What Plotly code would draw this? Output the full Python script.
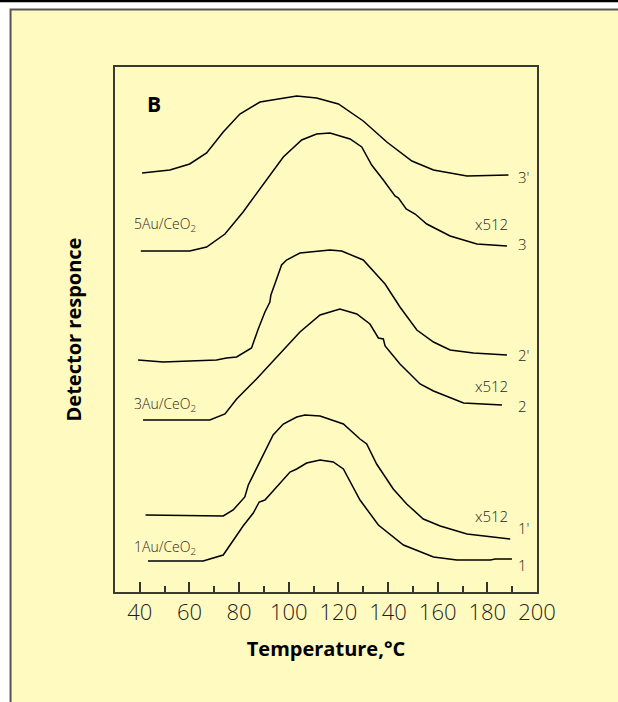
import plotly.graph_objects as go

# Temperature (°C) and detector response (arbitrary units, curves offset vertically)
t_1 = [43.3, 65.5, 73.6, 77.6, 81.6, 85.7, 88.1, 90.4, 96.4, 100.5, 103.2, 107.2, 112.6, 117.9,
       122.0, 128.0, 128.7, 136.1, 146.2, 158.3, 167.7, 181.2, 183.2, 189.9]
r_1 = [3.1, 3.1, 3.7, 5.2, 6.6, 7.9, 9.0, 9.2, 10.8, 12.0, 12.3, 12.9, 13.2, 13.0,
       12.3, 9.6, 9.2, 6.7, 4.7, 3.5, 3.2, 3.2, 3.3, 3.3]

t_1p = [42.3, 70.9, 73.6, 77.6, 82.3, 83.7, 88.4, 93.7, 97.8, 103.2, 106.5, 112.6, 122.0, 128.7,
        131.4, 135.4, 142.1, 147.5, 154.2, 161.0, 171.8, 189.2]
r_1p = [7.7, 7.6, 7.6, 8.2, 9.5, 10.7, 13.0, 15.7, 16.8, 17.5, 17.7, 17.6, 16.8, 15.3,
        14.8, 12.8, 10.3, 8.8, 7.3, 6.6, 5.8, 5.3]

t_2 = [41.3, 68.2, 74.3, 79.0, 87.0, 96.4, 104.5, 112.6, 120.6, 127.4, 132.7, 136.1, 138.1, 138.8,
       144.8, 152.9, 158.3, 170.4, 185.9]
r_2 = [17.2, 17.2, 17.8, 19.3, 21.3, 23.8, 26.0, 27.7, 28.3, 27.8, 26.8, 25.4, 25.3, 24.6,
       22.8, 20.8, 20.1, 18.9, 18.7]

t_2p = [39.3, 49.4, 70.9, 74.9, 79.0, 85.0, 87.7, 90.4, 92.4, 92.8, 94.4, 97.1, 99.1, 104.5,
        116.6, 121.3, 130.0, 138.8, 144.8, 151.6, 158.3, 165.0, 174.4, 187.9]
r_2p = [23.2, 23.0, 23.2, 23.4, 23.5, 24.4, 26.3, 28.0, 29.0, 29.7, 30.8, 32.7, 33.2, 33.9,
        34.2, 34.1, 33.2, 30.8, 28.5, 26.2, 25.0, 24.2, 23.9, 23.7]

t_3 = [40.4, 60.1, 66.9, 74.3, 81.6, 89.7, 97.8, 105.2, 111.2, 116.6, 124.7, 129.4, 133.4, 138.1,
       142.8, 144.2, 147.3, 150.9, 155.6, 165.0, 175.8, 187.9]
r_3 = [34.1, 34.1, 34.5, 35.8, 38.0, 40.8, 43.5, 45.2, 45.8, 45.9, 45.3, 44.5, 42.7, 41.2,
       39.6, 39.4, 38.3, 37.8, 36.8, 35.6, 34.8, 34.6]

t_3p = [40.9, 52.1, 60.1, 66.9, 73.6, 80.3, 88.4, 103.2, 111.2, 120.0, 130.0, 139.5, 149.6, 158.3,
        171.8, 188.5]
r_3p = [41.9, 42.2, 42.8, 43.9, 46.0, 47.8, 49.0, 49.6, 49.4, 48.8, 47.1, 45.0, 43.1, 42.2,
        41.6, 41.7]

series = [(t_1, r_1), (t_1p, r_1p), (t_2, r_2), (t_2p, r_2p), (t_3, r_3), (t_3p, r_3p)]

curve_labels = ["1", "1'", "2", "2'", "3", "3'"]
curve_label_y = [2.7, 6.4, 18.6, 23.7, 34.8, 41.5]
scale_label_y = [7.6, 20.6, 36.8]
sample_labels = ["1Au/CeO<sub>2</sub>", "3Au/CeO<sub>2</sub>", "5Au/CeO<sub>2</sub>"]
sample_label_y = [4.5, 18.8, 36.8]

x_ticks = [40, 60, 80, 100, 120, 140, 160, 180, 200]

BG = "#FFFAC0"
INK = "#1e1e1e"
FONT = "Open Sans"

fig = go.Figure()
for t, r in series:
    fig.add_trace(go.Scatter(x=t, y=r, mode="lines",
                             line=dict(color="black", width=1.5), showlegend=False,
                             hoverinfo="skip"))

ann = []
for lab, yv in zip(curve_labels, curve_label_y):
    ann.append(dict(x=191.5, y=yv, text=lab, showarrow=False, xanchor="left",
                    font=dict(family=FONT, size=15, color=INK, weight=300)))
for yv in scale_label_y:
    ann.append(dict(x=181.7, y=yv, text="x512", showarrow=False, xanchor="center",
                    font=dict(family=FONT, size=15, color=INK, weight=300)))
for lab, yv in zip(sample_labels, sample_label_y):
    ann.append(dict(x=36.7, y=yv, text=lab, showarrow=False, xanchor="left",
                    font=dict(family=FONT, size=14, color=INK, weight=300)))
ann.append(dict(x=42.0, y=48.8, text="<b>B</b>", showarrow=False, xanchor="left",
                font=dict(family=FONT, size=21, color="black")))

shapes = [
    dict(type="rect", xref="paper", yref="paper", x0=-0.2475, x1=1.25, y0=-0.25, y1=1.1093,
         fillcolor=BG, line=dict(color="#555555", width=2), layer="below"),
    dict(type="rect", xref="paper", yref="paper", x0=-0.3, x1=1.3, y0=1.1235, y1=1.14,
         fillcolor="black", line=dict(width=0), layer="below"),
]

fig.update_layout(
    width=618, height=702,
    margin=dict(l=115, r=81, t=67, b=110),
    paper_bgcolor="white", plot_bgcolor=BG,
    font=dict(family=FONT, color=INK),
    annotations=ann, shapes=shapes,
    xaxis=dict(range=[30, 200], tickmode="array", tickvals=x_ticks,
               ticks="inside", ticklen=10, tickwidth=1.5, tickcolor="#333333",
               minor=dict(dtick=10, tick0=30, ticks="inside", ticklen=6, tickwidth=1.5,
                          tickcolor="#333333", showgrid=False),
               showgrid=False, zeroline=False,
               showline=True, mirror=True, linecolor="#3a3a30", linewidth=2,
               tickfont=dict(family=FONT, size=22, color=INK, weight=300),
               title=dict(text="<b>Temperature,°C</b>", standoff=17,
                          font=dict(family=FONT, size=20, color="black"))),
    yaxis=dict(range=[0, 52.5], showticklabels=False, ticks="", showgrid=False,
               zeroline=False, showline=True, mirror=True, linecolor="#3a3a30", linewidth=2,
               title=dict(text="<b>Detector responce</b>", standoff=26,
                          font=dict(family=FONT, size=20, color="black"))),
)

fig.write_html("out.html", config={"displayModeBar": False},
               post_script="document.body.style.margin='0px';document.body.style.overflow='hidden';")
